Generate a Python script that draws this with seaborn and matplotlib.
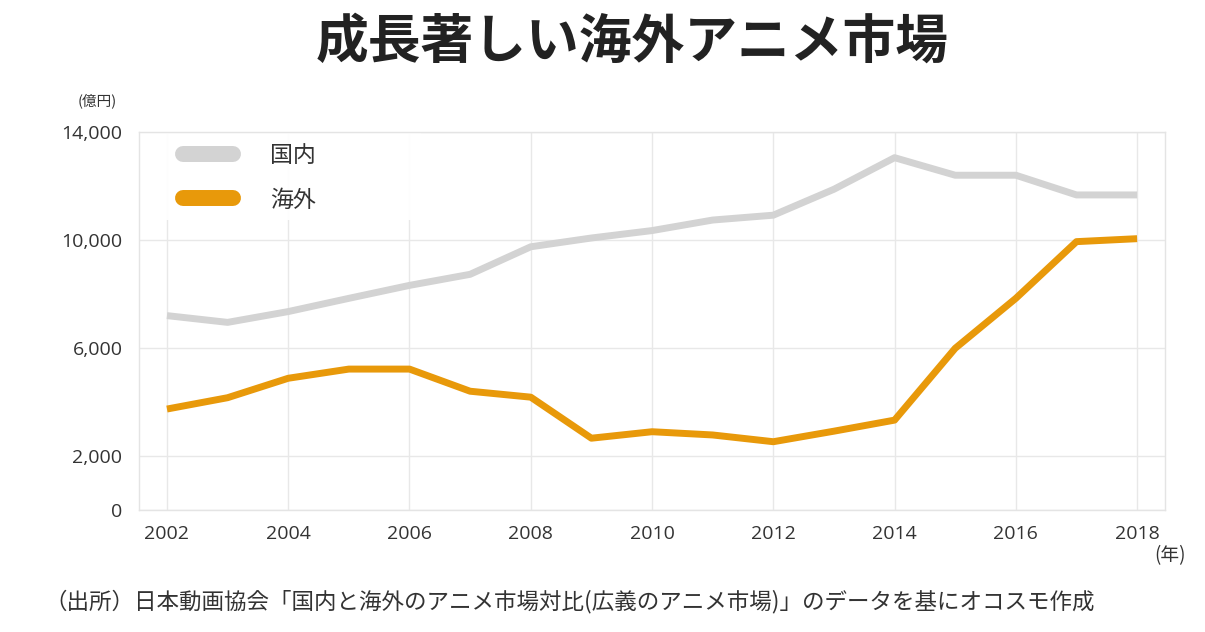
import numpy as np
import pandas as pd
import matplotlib.pyplot as plt
from matplotlib.lines import Line2D
from matplotlib.patches import Rectangle
import seaborn as sns

years = list(range(2002, 2019))
domestic = [7200, 6950, 7350, 7840, 8320, 8730, 9750, 10075, 10350,
            10740, 10920, 11880, 13050, 12400, 12400, 11670, 11670]
overseas = [3740, 4160, 4880, 5220, 5220, 4400, 4180, 2660, 2900,
            2780, 2530, 2920, 3330, 5990, 7840, 9940, 10050]
series_names = ['国内', '海外']
colors = ['#d3d3d3', '#e8990a']
xticks = list(range(2002, 2019, 2))
yticks = [0, 2000, 6000, 10000, 14000]

df = pd.DataFrame({
    'year': years * 2,
    'value': domestic + overseas,
    'series': [series_names[0]] * len(years) + [series_names[1]] * len(years),
})

sns.set_style('white')
plt.rcParams['font.family'] = ['Noto Sans CJK JP', 'DejaVu Sans']

fig = plt.figure(figsize=(12.05, 6.32), dpi=100)
ax = fig.add_axes([0.1154, 0.193, 0.8514, 0.5981])

sns.lineplot(data=df, x='year', y='value', hue='series', hue_order=series_names,
             palette=colors, linewidth=5, ax=ax, legend=False,
             solid_capstyle='butt', zorder=3)

ax.set_xlim(2001.54, 2018.46)
ax.set_ylim(0, 14000)
ax.set_xticks(xticks)
ax.set_yticks(yticks)
ax.set_yticklabels([f'{v:,}' for v in yticks])
ax.tick_params(axis='both', length=0, labelsize=14, labelcolor='#333333')
ax.tick_params(axis='x', pad=11)
ax.tick_params(axis='y', pad=12)
for lab in ax.get_xticklabels() + ax.get_yticklabels():
    lab.set_family(['Open Sans', 'DejaVu Sans'])
ax.set_xlabel('')
ax.set_ylabel('')
ax.grid(True, color='#e8e8e8', linewidth=1)
ax.set_axisbelow(True)
for s in ax.spines.values():
    s.set_color('#e4e4e4')
    s.set_linewidth(1)

# white panel behind the legend hides the vertical grid lines
ax.add_patch(Rectangle((0, 0.767), 0.275, 0.23, transform=ax.transAxes,
                       facecolor='white', edgecolor='none', alpha=0.92,
                       zorder=1))

handles = [Line2D([0], [0], color=c, linewidth=11.5, solid_capstyle='round')
           for c in colors]
leg = ax.legend(handles, series_names, loc='upper left',
                bbox_to_anchor=(0.0429, 0.969), frameon=False,
                fontsize=16.5, handlelength=2.18, handletextpad=1.6,
                labelspacing=0.95, borderpad=0, borderaxespad=0)
for t in leg.get_texts():
    t.set_color('#333333')

fig.text(0.525, 0.933, '成長著しい海外アニメ市場', ha='center', va='center',
         fontsize=38, fontweight='bold', color='#222222')
fig.text(0.081, 0.84, '(億円)', ha='center', va='center', fontsize=10.5,
         color='#333333')
fig.text(0.971, 0.121, '(年)', ha='center', va='center', fontsize=13.5,
         color='#333333')
fig.text(0.037, 0.049,
         '（出所）日本動画協会「国内と海外のアニメ市場対比(広義のアニメ市場)」のデータを基にオコスモ作成',
         ha='left', va='center', fontsize=16.2, color='#333333')

fig.savefig('out.png', dpi=100, facecolor='white')
